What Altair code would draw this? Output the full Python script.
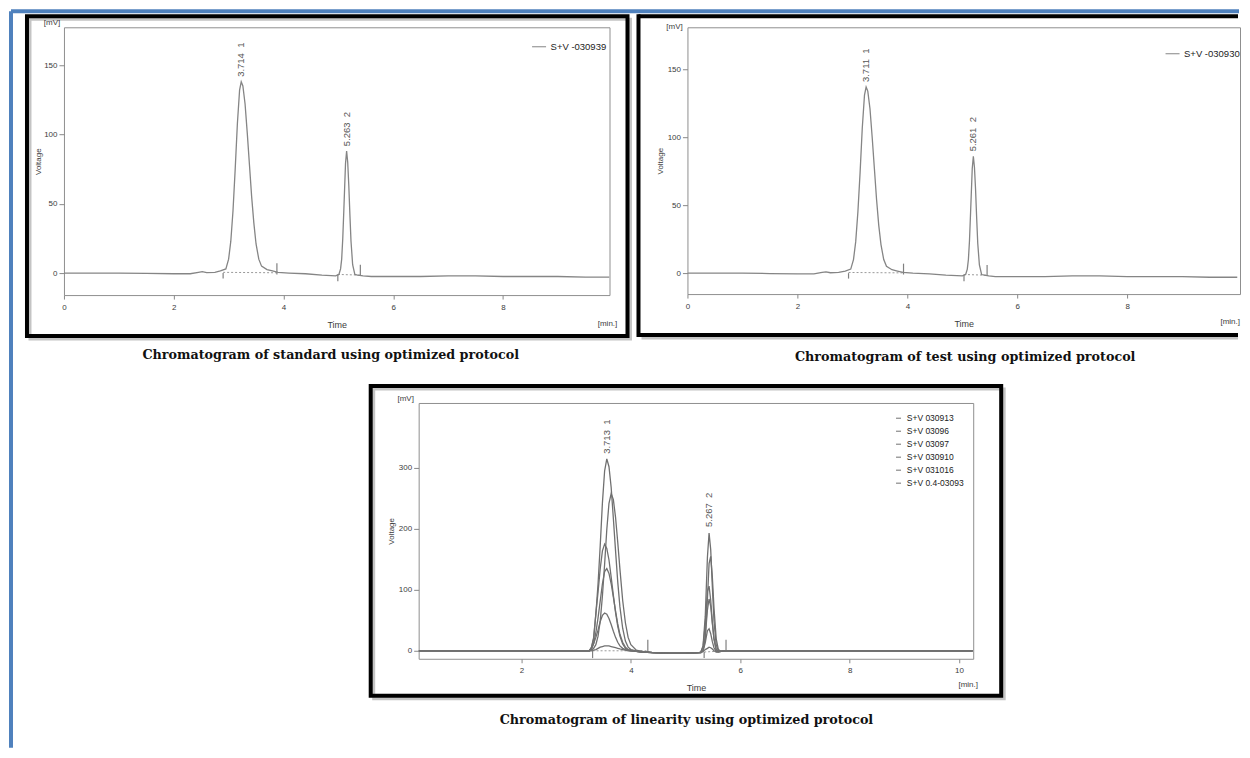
import altair as alt
import pandas as pd

# ---------------- values ----------------
# Chromatogram of standard
std_time = [0, 0.5, 1.0, 1.5, 2.0, 2.3, 2.45, 2.52, 2.6, 2.75, 2.85, 2.95, 3.0, 3.04, 3.08,
            3.12, 3.16, 3.2, 3.23, 3.26, 3.3, 3.34, 3.38, 3.42, 3.46, 3.5, 3.55, 3.6, 3.7, 3.8,
            3.9, 4.1, 4.4, 4.7, 4.95, 5.01, 5.04, 5.06, 5.08, 5.10, 5.13, 5.15, 5.17, 5.19, 5.21,
            5.23, 5.26, 5.30, 5.35, 5.45, 5.6, 6.0, 6.5, 7.0, 7.5, 8.0, 8.5, 9.0, 9.5, 9.94]
std_mv = [0, 0, 0, -0.3, -0.5, -0.5, 0.5, 1.0, 0.3, 0.5, 1.5, 3, 10, 23, 45,
          75, 108, 132, 138, 135, 122, 101, 78, 55, 36, 21, 10, 5, 2.5, 1.5,
          0.5, 0, -0.5, -1.5, -2, -1, 3, 10, 25, 46, 79, 88, 80, 63, 42,
          23, 6, -1, -1.5, -2, -2.5, -2.5, -2.5, -2, -2, -2.5, -2.5, -2.5, -3, -3]
std_series = ["S+V -030939"]
std_peak_t = [3.23, 5.15]
std_peak_mv = [138, 88]
std_peak_label = ["3.714\u00a0\u00a01", "5.263\u00a0\u00a02"]
std_mark_t = [2.90, 3.88, 4.99, 5.40]
std_mark_lo = [-4, -1, -6, -2]
std_mark_hi = [0, 7, -1, 6]
std_base_t1 = [2.90, 4.99]
std_base_t2 = [3.88, 5.40]
std_base_v1 = [0.5, -1]
std_base_v2 = [0.2, -1.5]

# Chromatogram of test
test_time = [0, 0.5, 1.0, 1.5, 2.0, 2.3, 2.45, 2.52, 2.6, 2.75, 2.87, 2.97, 3.02, 3.06, 3.10,
             3.14, 3.18, 3.22, 3.25, 3.28, 3.32, 3.36, 3.40, 3.44, 3.48, 3.52, 3.57, 3.62, 3.72, 3.82,
             3.92, 4.1, 4.4, 4.7, 5.0, 5.06, 5.09, 5.11, 5.13, 5.15, 5.18, 5.20, 5.22, 5.24, 5.26,
             5.28, 5.31, 5.35, 5.40, 5.48, 5.6, 6.0, 6.5, 7.0, 7.5, 8.0, 8.5, 9.0, 9.5, 10.0]
test_mv = [0, 0, 0, -0.3, -0.5, -0.5, 0.5, 1.0, 0.3, 0.5, 1.5, 3, 10, 23, 45,
           74, 107, 131, 137, 134, 121, 100, 77, 54, 35, 21, 10, 5, 2.5, 1.5,
           0.5, 0, -0.5, -1.5, -2, -1, 3, 10, 24, 45, 77, 86, 78, 62, 41,
           22, 6, -1, -1.5, -2, -2.5, -2.5, -2.5, -2, -2, -2.5, -2.5, -2.5, -3, -3]
test_series = ["S+V -030930"]
test_peak_t = [3.25, 5.20]
test_peak_mv = [137, 86]
test_peak_label = ["3.711\u00a0\u00a01", "5.261\u00a0\u00a02"]
test_mark_t = [2.93, 3.93, 5.03, 5.45]
test_mark_lo = [-4, -1, -6, -2]
test_mark_hi = [0, 7, -1, 6]
test_base_t1 = [2.93, 5.03]
test_base_t2 = [3.93, 5.45]
test_base_v1 = [0.5, -1]
test_base_v2 = [0.2, -1.5]

# Chromatogram of linearity (six injections)
lin_time = [0.12, 1.0, 2.0, 3.0, 3.24,
            3.28, 3.32, 3.36, 3.40, 3.44, 3.48, 3.52, 3.56, 3.60, 3.64, 3.68, 3.72, 3.76, 3.80,
            3.85, 3.90, 3.95, 4.0, 4.1, 4.2, 4.4, 4.7, 5.0, 5.25,
            5.28, 5.32, 5.36, 5.40, 5.43, 5.46, 5.49, 5.52, 5.56, 5.60, 5.65, 5.7,
            6.0, 7.0, 8.0, 9.0, 10.25]
lin_series = ["S+V 030913", "S+V 03096", "S+V 03097", "S+V 030910", "S+V 031016", "S+V 0.4-03093"]
lin_030913 = [0, 0, 0, 0, 0,
              5, 20, 60, 110, 173, 243, 295, 315, 302, 268, 217, 164, 113, 72,
              37, 16, 6, 2, 0, -1, -3, -4, -4, -3,
              -2, 8, 56, 154, 193, 166, 105, 49, 10, 0, -1, 0,
              0, 0, 0, 0, 0]
lin_03096 = [0, 0, 0, 0, 0,
             1, 4, 10, 24, 49, 90, 142, 199, 242, 258, 248, 219, 178, 134,
             83, 46, 22, 10, 1, -1, -3, -4, -4, -3,
             -3, 0, 20, 85, 143, 155, 121, 70, 20, 2, -1, 0,
             0, 0, 0, 0, 0]
lin_03097 = [0, 0, 0, 0, 0,
             6, 22, 61, 96, 135, 164, 175, 168, 149, 121, 91, 63, 40, 24,
             11, 4, 1, 0, -1, -2, -3, -4, -4, -3,
             -2, 7, 43, 98, 106, 83, 47, 19, 2, -1, -1, 0,
             0, 0, 0, 0, 0]
lin_030910 = [0, 0, 0, 0, 0,
              3, 12, 30, 54, 82, 110, 130, 135, 127, 110, 88, 65, 44, 27,
              14, 6, 2, 1, -1, -2, -3, -4, -4, -3,
              -3, 1, 23, 67, 85, 73, 45, 20, 2, -1, -1, 0,
              0, 0, 0, 0, 0]
lin_031016 = [0, 0, 0, 0, 0,
              3, 12, 22, 34, 48, 58, 62, 60, 53, 43, 32, 22, 14, 8,
              4, 2, 1, 0, -1, -2, -3, -4, -4, -3,
              -3, 0, 13, 33, 36, 28, 15, 5, -1, -2, -1, 0,
              0, 0, 0, 0, 0]
lin_0403093 = [0, 0, 0, 0, 0,
               0, 1, 2, 4, 6, 7, 8, 8, 8, 7, 6, 5, 4, 3,
               2, 1, 0, 0, -1, -2, -3, -4, -4, -3,
               -3, -1, 2, 4, 6, 5, 3, 0, -2, -2, -1, 0,
               0, 0, 0, 0, 0]
lin_peak_t = [3.57, 5.43]
lin_peak_mv = [315, 195]
lin_peak_label = ["3.713\u00a0\u00a01", "5.267\u00a0\u00a02"]
lin_mark_t = [3.30, 4.31, 5.34, 5.74]
lin_mark_lo = [-12, -2, -12, 0]
lin_mark_hi = [0, 18, -2, 18]
lin_base_t1 = [3.30, 5.34]
lin_base_t2 = [4.31, 5.74]
lin_base_v1 = [0, -2]
lin_base_v2 = [0, 0]

captions = ["Chromatogram of standard using optimized protocol",
            "Chromatogram of test using optimized protocol",
            "Chromatogram of linearity using optimized protocol"]

# ---------------- styling ----------------
FONT = "Liberation Sans"
SERIF = "DejaVu Serif"
AX = "#3c3c3c"
ONE = pd.DataFrame({"k": [0]})


def xenc(field, dom, vals, w):
    return alt.X(field, type="quantitative",
                 scale=alt.Scale(domain=dom, nice=False, zero=False),
                 axis=alt.Axis(values=vals, format="d", title="Time", titleX=w / 2, titleY=29,
                               titleBaseline="middle", titleFont=FONT, titleFontSize=9,
                               titleFontWeight="normal", titleColor=AX, labelFont=FONT,
                               labelFontSize=8, labelColor=AX, labelFlush=False, labelPadding=4,
                               tickSize=4, tickColor="#888", domain=False, grid=False))


def yenc(field, dom, vals, h, tx):
    return alt.Y(field, type="quantitative",
                 scale=alt.Scale(domain=dom, nice=False, zero=False),
                 axis=alt.Axis(values=vals, format="d", title="Voltage", titleX=tx, titleY=h / 2,
                               titleAngle=270, titleAlign="center", titleBaseline="middle",
                               titleFont=FONT, titleFontSize=8, titleFontWeight="normal",
                               titleColor=AX, labelFont=FONT, labelFontSize=8, labelColor=AX,
                               labelPadding=2, tickSize=5, tickColor="#888", domain=False,
                               grid=False))


def txt(s, x, y, size=8, align="center", color=AX, font=FONT, weight="normal"):
    return alt.Chart(pd.DataFrame({"s": [s]})).mark_text(
        font=font, fontSize=size, align=align, baseline="middle", color=color,
        fontWeight=weight).encode(text="s:N", x=alt.value(x), y=alt.value(y))


def rect(x1, x2, y1, y2, color="#000", sw=4):
    return alt.Chart(ONE).mark_rect(fill="transparent", stroke=color, strokeWidth=sw).encode(
        x=alt.value(x1), x2=alt.value(x2), y=alt.value(y1), y2=alt.value(y2))


def hrule(x1, x2, y, color="#000", sw=4):
    return alt.Chart(ONE).mark_rule(color=color, strokeWidth=sw).encode(
        x=alt.value(x1), x2=alt.value(x2), y=alt.value(y))


def vrule(x, y1, y2, color="#000", sw=4):
    return alt.Chart(ONE).mark_rule(color=color, strokeWidth=sw).encode(
        x=alt.value(x), y=alt.value(y1), y2=alt.value(y2))


def panel(times, traces, names, line_color, xdom, ydom, w, h, xvals, yvals, ytx,
          pk_t, pk_v, pk_lab, mk_t, mk_lo, mk_hi, b_t1, b_t2, b_v1, b_v2, legend, decor):
    rows = []
    for name, vals in zip(names, traces):
        for t, v in zip(times, vals):
            rows.append({"t": t, "v": v, "series": name})
    df = pd.DataFrame(rows)
    X = lambda f: xenc(f, xdom, xvals, w)
    Y = lambda f: yenc(f, ydom, yvals, h, ytx)

    lines = alt.Chart(df).mark_line(strokeWidth=1.3, clip=True).encode(
        x=X("t"), y=Y("v"),
        color=alt.Color("series:N", scale=alt.Scale(domain=names, range=[line_color] * len(names)),
                        legend=alt.Legend(**legend)))
    base = alt.Chart(pd.DataFrame({"t1": b_t1, "t2": b_t2, "v1": b_v1, "v2": b_v2})).mark_rule(
        strokeDash=[2, 2], color="#9a9a9a", strokeWidth=1).encode(
        x=X("t1"), x2="t2", y=Y("v1"), y2="v2")
    marks = alt.Chart(pd.DataFrame({"t": mk_t, "lo": mk_lo, "hi": mk_hi})).mark_rule(
        color="#808080", strokeWidth=1.2).encode(x=X("t"), y=Y("lo"), y2="hi")
    labels = alt.Chart(pd.DataFrame({"t": pk_t, "v": pk_v, "label": pk_lab})).mark_text(
        angle=270, align="left", baseline="middle", dx=5, font=FONT, fontSize=9.5,
        color="#555").encode(x=X("t"), y=Y("v"), text="label:N")
    return alt.layer(*decor, base, marks, lines, labels).properties(width=w, height=h)


def leg(x, y, size, rowpad, fs):
    return dict(orient="none", legendX=x, legendY=y, title=None, symbolType="stroke",
                symbolSize=size, symbolStrokeWidth=1, labelFont=FONT, labelFontSize=fs,
                labelColor="#222", labelOffset=4, rowPadding=rowpad, padding=0)


CAP = dict(size=12.75, color="#111", font=SERIF, weight="bold")

# ---------- panel A : standard (plot area 546 x 268) ----------
wA, hA = 546, 268
decorA = [
    hrule(-53, 1176, -16, color="#4f81bd"),
    vrule(-53, -16, 721, color="#4f81bd"),
    rect(-34, 567, -8, 312, color="#c4c4c4", sw=3),
    rect(-37, 564, -11, 309),
    txt("[mV]", -12, -4),
    txt("[min.]", 544, 297),
    txt(captions[0], 267, 328, **CAP),
]
A = panel(std_time, [std_mv], std_series, "#858585", [0, 9.94], [-15.9, 177.4], wA, hA,
          [0, 2, 4, 6, 8], [0, 50, 100, 150], -25,
          std_peak_t, std_peak_mv, std_peak_label, std_mark_t, std_mark_lo, std_mark_hi,
          std_base_t1, std_base_t2, std_base_v1, std_base_v2,
          leg(468, 12, 196, 4, 9.5), decorA)

# ---------- panel B : test (plot area 553 x 267) ----------
wB, hB = 553, 267
decorB = [
    hrule(-46, 551, 311, color="#c4c4c4", sw=3),
    hrule(-49, 551, -11),
    hrule(-49, 551, 308),
    vrule(-49, -13, 310),
    txt("[mV]", -13, 0),
    txt("[min.]", 553, 295, align="right"),
    txt(captions[1], 278, 330, **CAP),
]
B = panel(test_time, [test_mv], test_series, "#858585", [0, 10.05], [-15.4, 181], wB, hB,
          [0, 2, 4, 6, 8], [0, 50, 100, 150], -27,
          test_peak_t, test_peak_mv, test_peak_label, test_mark_t, test_mark_lo, test_mark_hi,
          test_base_t1, test_base_t2, test_base_v1, test_base_v2,
          leg(478, 19, 196, 4, 9.5), decorB)

# ---------- panel C : linearity (plot area 555 x 256) ----------
wC, hC = 555, 256
decorC = [
    rect(-45, 586, -14, 296, color="#c4c4c4", sw=3),
    rect(-48, 583, -17, 293),
    txt("[mV]", -13, -4),
    txt("[min.]", 550, 282),
    txt(captions[2], 268, 317, **CAP),
]
C = panel(lin_time, [lin_030913, lin_03096, lin_03097, lin_030910, lin_031016, lin_0403093],
          lin_series, "#707070", [0.12, 10.26], [-13.1, 406.6], wC, hC,
          [2, 4, 6, 8, 10], [0, 100, 200, 300], -27,
          lin_peak_t, lin_peak_mv, lin_peak_label, lin_mark_t, lin_mark_lo, lin_mark_hi,
          lin_base_t1, lin_base_t2, lin_base_v1, lin_base_v2,
          leg(476, 11, 25, 4, 8.5), decorC)

spacer = alt.Chart(ONE).mark_point(opacity=0).encode(
    x=alt.value(0), y=alt.value(0)).properties(
    width=277, height=1, view=alt.ViewBackground(stroke="transparent"))

row1 = alt.hconcat(A, B, spacing=78, bounds="flush").resolve_scale(
    color="independent").resolve_legend(color="independent")
row2 = alt.hconcat(spacer, C, spacing=78, bounds="flush").resolve_scale(
    color="independent").resolve_legend(color="independent")

chart = alt.vconcat(row1, row2, spacing=376, bounds="flush").resolve_scale(
    color="independent").resolve_legend(color="independent").properties(
    padding=0, background="white").configure_view(stroke="#8f8f8f", strokeWidth=1)

chart.save("out.html", embed_options={"renderer": "svg", "actions": False})
